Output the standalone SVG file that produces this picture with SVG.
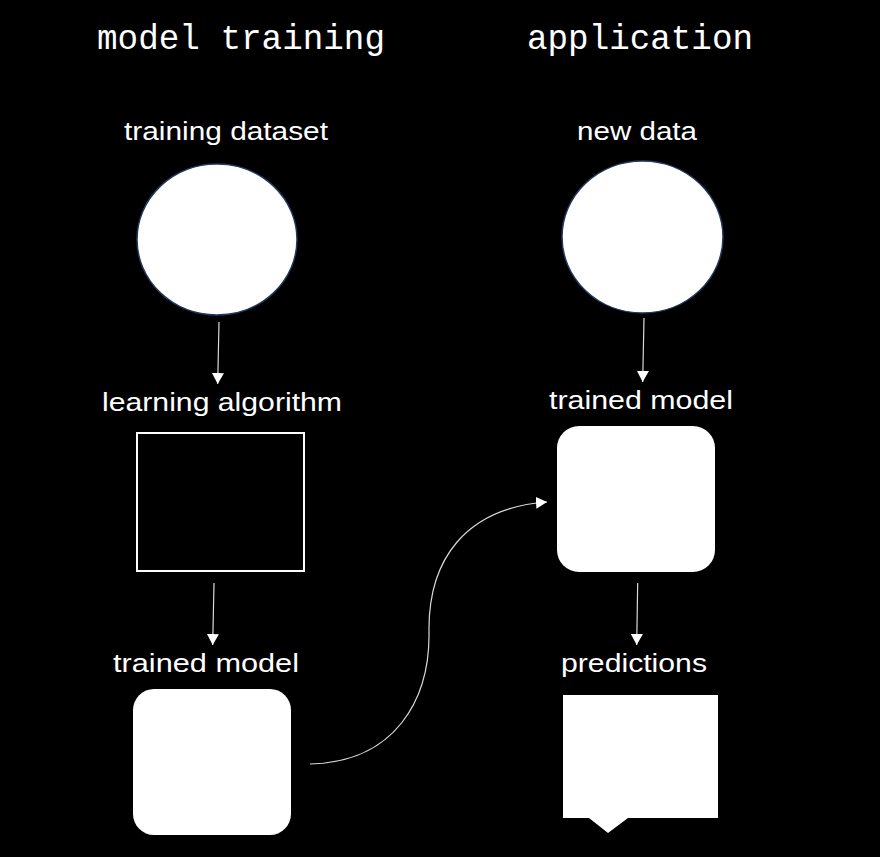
<svg xmlns="http://www.w3.org/2000/svg" width="880" height="857" viewBox="0 0 880 857">
<defs>
<style>
.title{font-family:"Liberation Mono","DejaVu Sans Mono",monospace;font-size:35px;fill:#fff;}
.lbl{font-family:"Liberation Sans","Noto Sans",sans-serif;font-size:26px;fill:#fff;text-anchor:middle;}
.circ{fill:#fff;stroke:#1f3a5f;stroke-width:1.5;}
.fill{fill:#fff;}
.edge{fill:none;stroke:#d9d9d9;stroke-width:1.2;}
</style>
<marker id="ah" markerWidth="12" markerHeight="12" refX="11" refY="6" orient="auto" markerUnits="userSpaceOnUse">
<path d="M0,0 L11,6 L0,12 Z" fill="#fff"/>
</marker>
</defs>
<rect x="0" y="0" width="880" height="857" fill="#000"/>
<text class="title" x="97" y="49" textLength="288" lengthAdjust="spacingAndGlyphs">model training</text>
<text class="title" x="527" y="49" textLength="226" lengthAdjust="spacingAndGlyphs">application</text>

<g id="training-dataset">
<text class="lbl" x="226" y="140" textLength="204" lengthAdjust="spacingAndGlyphs">training dataset</text>
<ellipse class="circ" cx="217" cy="239.5" rx="80" ry="75.5"/>
</g>
<g id="learning-algorithm">
<text class="lbl" x="222" y="411" textLength="240" lengthAdjust="spacingAndGlyphs">learning algorithm</text>
<rect x="137" y="433" width="167" height="138" fill="none" stroke="#fff" stroke-width="2"/>
</g>
<g id="trained-model-left">
<text class="lbl" x="206" y="672" textLength="186" lengthAdjust="spacingAndGlyphs">trained model</text>
<rect class="fill" x="133" y="689" width="158" height="146" rx="21" ry="21"/>
</g>
<g id="new-data">
<text class="lbl" x="637" y="140" textLength="120" lengthAdjust="spacingAndGlyphs">new data</text>
<ellipse class="circ" cx="642.5" cy="237" rx="80.5" ry="76"/>
</g>
<g id="trained-model-right">
<text class="lbl" x="641" y="409" textLength="184" lengthAdjust="spacingAndGlyphs">trained model</text>
<rect class="fill" x="557" y="426" width="158" height="146" rx="22" ry="22"/>
</g>
<g id="predictions">
<text class="lbl" x="634" y="672" textLength="146" lengthAdjust="spacingAndGlyphs">predictions</text>
<path class="fill" d="M563,695 H718 V818 H628 L608,833 L589,818 H563 Z"/>
</g>

<g id="connectors">
<path class="edge" d="M219,322 L217.7,384" marker-end="url(#ah)"/>
<path class="edge" d="M214,583 L212.7,645" marker-end="url(#ah)"/>
<path class="edge" d="M644,318 L642.7,382" marker-end="url(#ah)"/>
<path class="edge" d="M637.7,583 L636.7,645" marker-end="url(#ah)"/>
<path class="edge" d="M310,764 C395,762 430,700 429,632 C428,560 465,508 547,502" marker-end="url(#ah)"/>
</g>
</svg>
